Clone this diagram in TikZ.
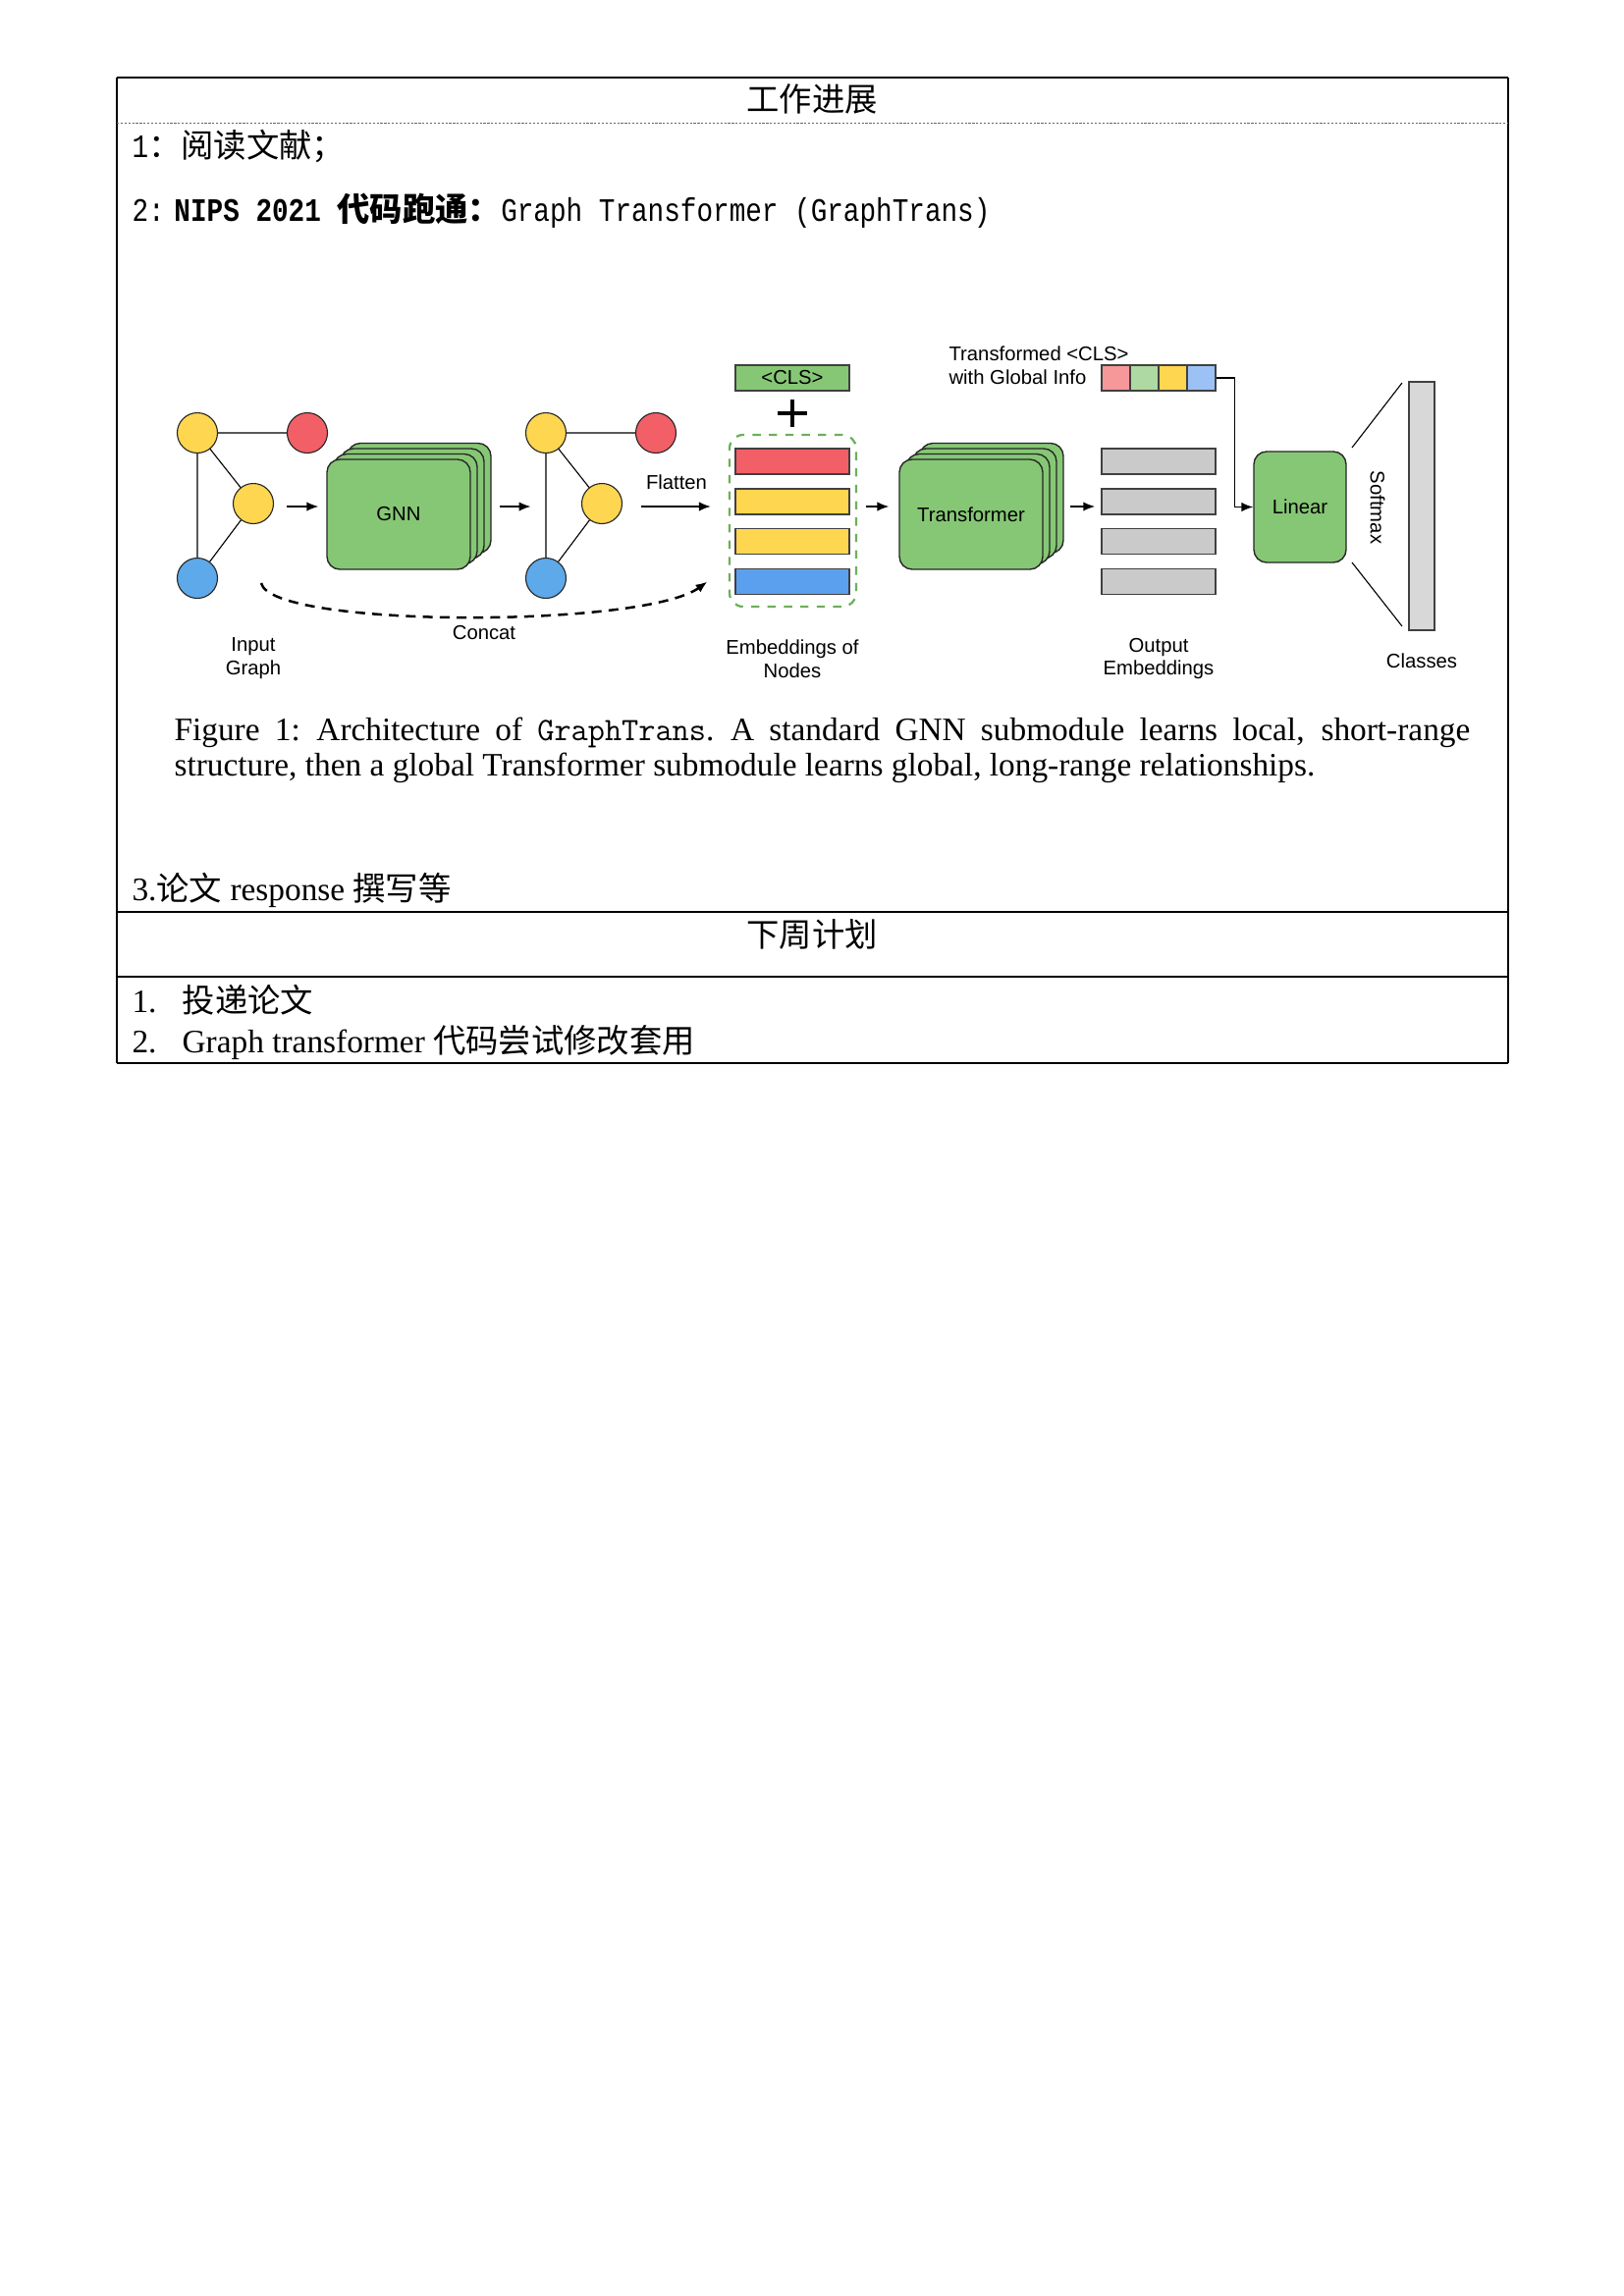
\documentclass[tikz,border=0pt]{standalone}
\usepackage{fontspec}
\setmainfont{Liberation Serif}
\newfontfamily\cjk{Noto Sans CJK SC}
\newfontfamily\figfont{Liberation Sans}
\newfontfamily\narrowmono[FakeStretch=0.83]{Liberation Mono}
\usepackage{tikz}
\usetikzlibrary{arrows.meta,positioning}

\newcommand\pxu{0.3599pt}
\definecolor{nodeyellow}{HTML}{FFD650}
\definecolor{nodered}{HTML}{F25F66}
\definecolor{nodeblue}{HTML}{5DA9E9}
\definecolor{barblue}{HTML}{5B9FEF}
\definecolor{boxgreen}{HTML}{86C775}
\definecolor{dashgreen}{HTML}{6AB158}
\definecolor{bargray}{HTML}{CACACA}
\definecolor{classgray}{HTML}{D8D8D8}
\definecolor{clspink}{HTML}{F6979A}
\definecolor{clsgreen}{HTML}{AED9A2}
\definecolor{clsblue}{HTML}{9CC2F5}

\begin{document}
\begin{tikzpicture}[x=0.3599pt,y=-0.3599pt,
    txt/.style={inner sep=0,font=\fontsize{12}{14}\selectfont},
    gnode/.style={circle,draw=black!85,line width=0.4pt,minimum size=41*\pxu,inner sep=0},
    link/.style={line width=0.4pt},
    stackbox/.style={draw=black!85,fill=boxgreen,line width=0.5pt,rounded corners=4.7pt,
      minimum width=146*\pxu,minimum height=112*\pxu,font=\figfont\fontsize{7.3}{8.6}\selectfont},
    embbar/.style={draw=black!75,line width=0.5pt,minimum width=116*\pxu,minimum height=26*\pxu,inner sep=0},
    cell/.style={draw=black!75,line width=0.5pt,minimum width=29*\pxu,minimum height=26*\pxu,inner sep=0},
    lbl/.style={font=\figfont\fontsize{7.3}{8.6}\selectfont,align=center,inner sep=0},
    flow/.style={-{Latex[length=4.3pt,width=3.4pt]},line width=0.55pt},
    concat/.style={-{Latex[length=4.3pt,width=3.4pt]},line width=0.9pt,dash pattern=on 3.6pt off 2.6pt}]
  \fill[white] (0,0) rectangle (1654,2339);

  % table
  \draw[line width=0.6pt] (119,79) -- (1536,79);
  \draw[line width=0.4pt] (119,79) -- (119,1083) (1536,79) -- (1536,1083);
  \draw[line width=0.6pt] (119,929) -- (1536,929) (119,995) -- (1536,995) (119,1083) -- (1536,1083);
  \draw[black!60,line width=0.3pt,dash pattern=on 0.8pt off 0.6pt] (119,125) -- (1536,125);

  \node[txt] (head1) at (827,101) {\cjk 工作进展};
  \node[txt,anchor=west] (item1) at (134,149) {{\narrowmono 1}{\cjk ：阅读文献；}};
  \node[txt,anchor=west] (item2) at (134,215)
    {{\narrowmono 2:\hspace{3.5pt}\bfseries NIPS 2021 }{\cjk\bfseries 代码跑通：}{\narrowmono Graph Transformer (GraphTrans)}};
  \node[txt,anchor=north west,text width=475pt,align=justify,font=\fontsize{12}{12.96}\selectfont] (cap) at (177,730)
    {Figure 1:\enspace Architecture of \texttt{GraphTrans}.\enspace A standard GNN submodule learns local, short-range\linebreak
     structure, then a global Transformer submodule learns global, long-range relationships.};
  \node[txt,anchor=west] (item3) at (134,907) {3.{\cjk 论文} response {\cjk 撰写等}};
  \node[txt] (head2) at (827,952) {\cjk 下周计划};
  \node[txt,anchor=west] (plan1) at (134,1019) {\makebox[18.4pt][l]{1.}{\cjk 投递论文}};
  \node[txt,anchor=west] (plan2) at (134,1062) {\makebox[18.4pt][l]{2.}Graph transformer {\cjk 代码尝试修改套用}};

  % input graph
  \coordinate (row) at (0,516);
  \node[gnode,fill=nodeyellow] (in1) at (201,441) {};
  \node[gnode,fill=nodered]    (in2) at (313,441) {};
  \node[gnode,fill=nodeyellow] (in3) at (258,513) {};
  \node[gnode,fill=nodeblue]   (in4) at (201,589) {};
  \draw[link] (in1) -- (in2) (in1) -- (in4) (in1) -- (in3) (in3) -- (in4);

  % gnn
  \foreach \k in {3,2,1}
    \node[stackbox] (gnn\k) at (406+7*\k,524-5.5*\k) {};
  \node[stackbox] (gnn) at (406,524) {GNN};

  % graph after gnn
  \node[gnode,fill=nodeyellow] (out1) at (556,441) {};
  \node[gnode,fill=nodered]    (out2) at (668,441) {};
  \node[gnode,fill=nodeyellow] (out3) at (613,513) {};
  \node[gnode,fill=nodeblue]   (out4) at (556,589) {};
  \draw[link] (out1) -- (out2) (out1) -- (out4) (out1) -- (out3) (out3) -- (out4);

  % embeddings
  \node[embbar,fill=boxgreen,font=\figfont\fontsize{7.3}{8.6}\selectfont] (cls) at (807,385) {<CLS>};
  \draw[line width=1.5pt] (792,421) -- (822,421) (807,407) -- (807,435);
  \node[draw=dashgreen,dashed,line width=0.8pt,rounded corners=5pt,minimum width=129*\pxu,minimum height=175*\pxu] (embbox) at (807.5,530.5) {};
  \node[embbar,fill=nodered]    (e1) at (807,470) {};
  \node[embbar,fill=nodeyellow] (e2) at (807,511) {};
  \node[embbar,fill=nodeyellow] (e3) at (807,551.5) {};
  \node[embbar,fill=barblue]    (e4) at (807,592.5) {};

  % transformer
  \foreach \k in {3,2,1}
    \node[stackbox] (tf\k) at (989+7*\k,524-5.5*\k) {};
  \node[stackbox] (tf) at (989,524) {Transformer};

  % output embeddings
  \node[embbar,fill=bargray] (o1) at (1180,470) {};
  \node[embbar,fill=bargray] (o2) at (1180,511) {};
  \node[embbar,fill=bargray] (o3) at (1180,551.5) {};
  \node[embbar,fill=bargray] (o4) at (1180,592.5) {};
  \node[cell,fill=clspink]    (t1) at (1136.5,385) {};
  \node[cell,fill=clsgreen]   (t2) at (1165.5,385) {};
  \node[cell,fill=nodeyellow] (t3) at (1194.5,385) {};
  \node[cell,fill=clsblue]    (t4) at (1223.5,385) {};

  % head
  \node[stackbox,minimum width=94*\pxu,minimum height=113*\pxu] (lin) at (1324,516.5) {Linear};
  \node[draw=black!75,fill=classgray,line width=0.5pt,minimum width=26*\pxu,minimum height=253*\pxu,inner sep=0] (cls2) at (1448,515.5) {};
  \draw[line width=0.4pt] (1377,456) -- (1428,390) (1377,573) -- (1428,638);

  % connectors
  \draw[flow,shorten <=4.6pt,shorten >=2.9pt] (in3.east |- row) -- (gnn.west |- row);
  \draw[flow,shorten <=2.9pt,shorten >=-2pt] (gnn3.east |- row) -- (out1.west |- row);
  \draw[flow,shorten <=6.8pt,shorten >=6.5pt] (out3.east |- row) -- (embbox.west |- row);
  \draw[flow,shorten <=3.2pt,shorten >=3.6pt] (embbox.east |- row) -- (tf.west |- row);
  \draw[flow,shorten <=2.2pt,shorten >=2.2pt] (tf3.east |- row) -- (o2.west |- row);
  \draw[flow] (t4.east) -- ++(19,0) |- (lin.west);
  \coordinate (cfrom) at (266,594);
  \draw[concat] (cfrom) .. controls (276,640) and (655,640) .. ([xshift=-10pt]e4.west);

  % labels
  \node[lbl] (lflat) at (689,491) {Flatten};
  \node[lbl] (lcat) at (493,645) {Concat};
  \node[lbl] (lin_graph) at (258,671) {Input\\Graph};
  \node[lbl] (lemb) at (807,671) {Embeddings of\\Nodes};
  \node[lbl] (lout) at (1180,671) {Output\\Embeddings};
  \node[lbl,anchor=west,align=left] (lcls) at (966,372) {Transformed <CLS>\\with Global Info};
  \node[lbl,rotate=-90] (lsoft) at (1403,517) {Softmax};
  \node[lbl] (lclass) at (1448,673) {Classes};
\end{tikzpicture}
\end{document}
